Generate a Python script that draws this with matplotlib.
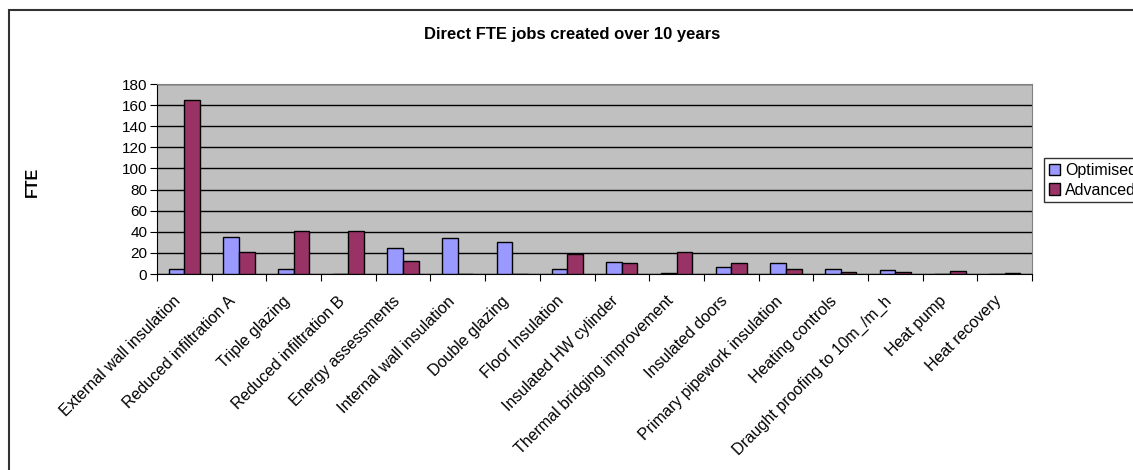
import numpy as np
import matplotlib.pyplot as plt
from matplotlib.patches import Rectangle
import matplotlib.transforms as mtransforms

plt.rcParams['font.family'] = ['Liberation Sans', 'DejaVu Sans']

measures = ['External wall insulation', 'Reduced infiltration A', 'Triple glazing',
            'Reduced infiltration B', 'Energy assessments', 'Internal wall insulation',
            'Double glazing', 'Floor Insulation', 'Insulated HW cylinder',
            'Thermal bridging improvement', 'Insulated doors', 'Primary pipework insulation',
            'Heating controls', 'Draught proofing to 10m_/m_h', 'Heat pump', 'Heat recovery']
optimised = [5, 35.5, 5, 0, 24.5, 34, 30, 5, 11, 1, 7, 10, 5, 3.5, 0, 0]
advanced = [165, 20.5, 41, 40.5, 12, 0, 0, 19, 10, 20.5, 10, 4.5, 2.2, 2.2, 2.5, 1]
yticks = list(range(0, 181, 20))

fig = plt.figure(figsize=(11.33, 4.70), dpi=100)
ax = fig.add_axes([157/1133, 1-274/470, 875/1133, 190/470])

x = np.arange(len(measures))
w = 1/3.5
b1 = ax.bar(x - w/2, optimised, w, color='#9999FF', edgecolor='black', linewidth=1, label='Optimised', zorder=3)
b2 = ax.bar(x + w/2, advanced, w, color='#993366', edgecolor='black', linewidth=1, label='Advanced', zorder=3)

ax.set_facecolor('#C0C0C0')
ax.set_xlim(-0.5, len(measures) - 0.5)
ax.set_ylim(0, 180)
ax.set_yticks(yticks)
ax.yaxis.grid(True, color='black', linewidth=1, zorder=1)
ax.set_axisbelow(True)
for s in ['top', 'right']:
    ax.spines[s].set_color('#808080')
for s in ['left', 'bottom']:
    ax.spines[s].set_color('black')

# tick marks between categories, labels centred under each pair
ax.set_xticks(np.arange(-0.5, len(measures)), minor=False)
ax.set_xticklabels([])
ax.set_xticks(x, minor=True)
ax.set_xticklabels(measures, minor=True, rotation=45, ha='right', va='top',
                   rotation_mode='anchor', fontsize=11.5)
ax.tick_params(axis='x', which='minor', length=0, pad=14)
ax.tick_params(axis='x', which='major', length=5, direction='out')
ax.tick_params(axis='y', length=5, direction='out', labelsize=11, pad=2)
shift = mtransforms.ScaledTranslation(-11/100, 0, fig.dpi_scale_trans)
for lbl in ax.get_xticklabels(minor=True):
    lbl.set_transform(lbl.get_transform() + shift)

ax.set_ylabel('FTE', fontsize=11.5, fontweight='bold')
ax.yaxis.set_label_coords(40/1133, 1-182/470, transform=fig.transFigure)

fig.text(572/1133, 1-35/470, 'Direct FTE jobs created over 10 years',
         ha='center', va='center', fontsize=12, fontweight='bold')

leg = fig.legend(handles=[b1, b2], loc='upper left', bbox_to_anchor=(1044/1133, 1-158/470),
                 fontsize=11.5, frameon=True, fancybox=False, edgecolor='black',
                 handlelength=0.7, handleheight=0.7, handletextpad=0.3,
                 borderpad=0.3, labelspacing=0.3, borderaxespad=0)
leg.get_frame().set_linewidth(1)

# chart area border
fig.patches.append(Rectangle((9/1133, -0.1), 1.2, 1.1 - 10/470, transform=fig.transFigure,
                             fill=False, edgecolor='#333333', linewidth=1.5))

fig.savefig('out.png', dpi=100)
